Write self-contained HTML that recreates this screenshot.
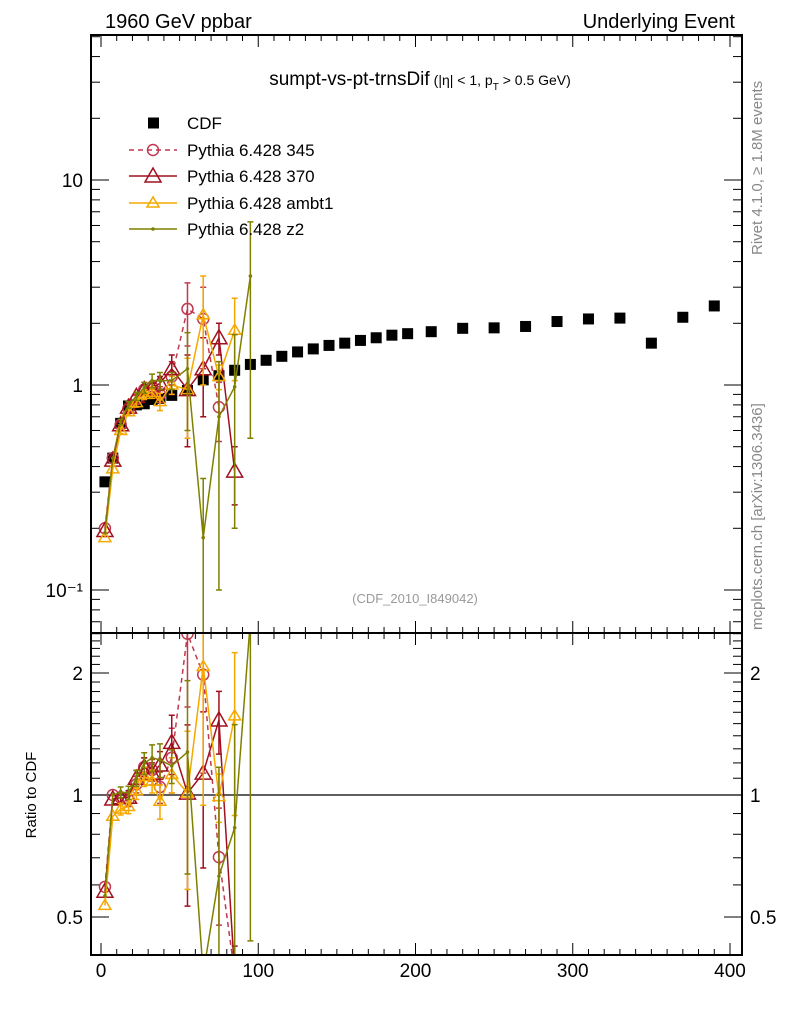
<!DOCTYPE html>
<html><head><meta charset="utf-8">
<style>
html,body{margin:0;padding:0;background:#fff;overflow:hidden;width:786px;height:1024px;}
svg{display:block;font-family:"Liberation Sans",sans-serif;overflow:hidden;}
</style></head>
<body>
<svg id="chart" width="786" height="1024" viewBox="0 0 786 1024" xmlns="http://www.w3.org/2000/svg">
<text x="105" y="28" font-size="20">1960 GeV ppbar</text>
<text x="735" y="28" font-size="20" text-anchor="end">Underlying Event</text>
<text x="420" y="85" font-size="19" text-anchor="middle">sumpt-vs-pt-trnsDif<tspan font-size="14" dx="4">(|η| &lt; 1, p</tspan><tspan font-size="10" dy="5">T</tspan><tspan font-size="14" dy="-5"> &gt; 0.5 GeV)</tspan></text>
<text transform="translate(762,255) rotate(-90)" font-size="15" fill="#888">Rivet 4.1.0, ≥ 1.8M events</text>
<text transform="translate(762,630) rotate(-90)" font-size="15" fill="#888">mcplots.cern.ch [arXiv:1306.3436]</text>
<text x="415" y="603" font-size="13" fill="#999" text-anchor="middle">(CDF_2010_I849042)</text>
<text transform="translate(36,795) rotate(-90)" font-size="15" text-anchor="middle">Ratio to CDF</text>
<defs>
<clipPath id="cMain"><rect x="91" y="35" width="651" height="598"/></clipPath>
<clipPath id="cRatio"><rect x="91" y="633" width="651" height="322"/></clipPath>
</defs>
<g id="axes"></g>
<g id="mainMarks" clip-path="url(#cMain)"></g>
<g id="ratioMarks" clip-path="url(#cRatio)"></g>
<g id="legend"></g>
<rect x="91" y="35" width="651" height="598" fill="none" stroke="#000" stroke-width="2"/>
<rect x="91" y="633" width="651" height="322" fill="none" stroke="#000" stroke-width="2"/>
</svg>
<script>
const cdfX = [2.5,7.5,12.5,17.5,22.5,27.5,32.5,37.5,45,55,65,75,85,95,105,115,125,135,145,155,165,175,185,195,210,230,250,270,290,310,330,350,370,390];
const cdfY = [0.337,0.44,0.65,0.79,0.80,0.81,0.85,0.86,0.89,0.94,1.06,1.11,1.18,1.26,1.32,1.38,1.45,1.5,1.56,1.6,1.65,1.7,1.75,1.78,1.82,1.89,1.9,1.93,2.04,2.1,2.12,1.6,2.14,2.43];
const mcX = [2.5,7.5,12.5,17.5,22.5,27.5,32.5,37.5,45,55,65,75,85,95];
const p345 = [0.20,0.44,0.64,0.77,0.85,0.95,0.98,0.90,1.10,2.35,2.10,0.78,0,null];
const p345Err = [0,0,0.02,0.03,0.04,0.05,0.06,0.08,0.2,0.8,0.9,0.25,0,0];
const p370 = [0.195,0.43,0.64,0.78,0.88,0.95,0.96,1.02,1.20,0.95,1.20,1.70,0.38,null];
const p370Err = [0,0,0.02,0.03,0.04,0.05,0.06,0.08,0.2,0.45,0.5,0.3,0.12,0];
const ambt1 = [0.18,0.39,0.60,0.74,0.82,0.90,0.92,0.83,1.00,0.95,2.20,1.10,1.85,null];
const ambt1Err = [0,0,0.02,0.03,0.04,0.05,0.06,0.08,0.1,0.4,1.2,0.15,0.8,0];
const z2 = [0.19,0.44,0.66,0.80,0.88,0.97,1.05,1.05,1.05,1.20,0.18,0.70,0.98,3.40];
const z2Err = [0,0,0.02,0.03,0.04,0.06,0.08,0.1,0.1,0.6,0.17,0.6,0.78,2.85];
const xTicks = [0,100,200,300,400];
const mainTickLabels = ["10⁻¹","1","10"];
const ratioTickLabels = ["0.5","1","2"];

const NS="http://www.w3.org/2000/svg";
const X0=101, XS=1.5725;
const sx = v => X0 + XS*v;
const syMain = v => 385 - 205*Math.log10(v);
const syRatio = r => 795 - 122*Math.log2(r);
function mk(tag, attrs, parent){const e=document.createElementNS(NS,tag);for(const k in attrs)e.setAttribute(k,attrs[k]);parent.appendChild(e);return e;}
const axes=document.getElementById('axes');
const gm=document.getElementById('mainMarks');
const gr=document.getElementById('ratioMarks');
const gl=document.getElementById('legend');

for(let v=0; v<=400; v+=10){
  const major = v%100===0;
  const L = major?12:6;
  const x=sx(v);
  [[35,1],[633,-1],[633,1],[955,-1]].forEach(([y,d])=>{
    const t=mk('line',{x1:x,x2:x,y1:y,y2:y+d*L,stroke:'#000','stroke-width':1},axes);
    
    
  });
}
xTicks.forEach(v=>{
  const t=mk('text',{x:sx(v),y:977,'font-size':19,'text-anchor':'middle'},axes);
  t.textContent=v;
  
  
});
for(let d=-2; d<=1; d++){
  for(let m=1;m<=9;m++){
    const v=m*Math.pow(10,d);
    const y=syMain(v);
    if(y<35||y>633) continue;
    const L = m===1?18:9;
    [[91,1],[742,-1]].forEach(([x,s])=>{
      const t=mk('line',{x1:x,x2:x+s*L,y1:y,y2:y,stroke:'#000','stroke-width':1},axes);
      
      
    });
  }
}
[0.1,1,10].forEach((v,i)=>{
  const t=mk('text',{x:83,y:syMain(v)+7,'font-size':19,'text-anchor':'end'},axes);
  t.textContent=mainTickLabels[i];
  
  
});
for(let r=0.4; r<=2.55; r+=0.1){
  const rr=Math.round(r*10)/10;
  const y=syRatio(rr);
  if(y<633||y>955) continue;
  const major=(rr===0.5||rr===1||rr===2);
  const L=major?18:9;
  [[91,1],[742,-1]].forEach(([x,s])=>{
    const t=mk('line',{x1:x,x2:x+s*L,y1:y,y2:y,stroke:'#000','stroke-width':1},axes);
    
    
  });
}
[0.5,1,2].forEach((v,i)=>{
  const a=mk('text',{x:83,y:syRatio(v)+7,'font-size':19,'text-anchor':'end'},axes);
  a.textContent=ratioTickLabels[i];
  
  
  const b=mk('text',{x:750,y:syRatio(v)+7,'font-size':19},axes);
  b.textContent=ratioTickLabels[i];
  
  
});
const one=mk('line',{x1:91,x2:742,y1:syRatio(1),y2:syRatio(1),stroke:'#000','stroke-width':1.2},axes);



cdfX.forEach((x,i)=>{
  const r=mk('rect',{x:sx(x)-5.5,y:syMain(cdfY[i])-5.5,width:11,height:11,fill:'#000'},gm);
  
  
});

function marker(g,type,color,x,y,name){
  let e;
  if(type==='circle') e=mk('circle',{cx:x,cy:y,r:5.5,fill:'none',stroke:color,'stroke-width':1.5},g);
  else if(type==='tri') e=mk('polygon',{points:`${x},${y-8} ${x-8},${y+6} ${x+8},${y+6}`,fill:'none',stroke:color,'stroke-width':1.5},g);
  else if(type==='tris') e=mk('polygon',{points:`${x},${y-6} ${x-6},${y+4} ${x+6},${y+4}`,fill:'none',stroke:color,'stroke-width':1.5},g);
  else e=mk('circle',{cx:x,cy:y,r:1.8,fill:color},g);
  
  
}
const series=[
  {vals:p345,err:p345Err,color:'#c0394f',dash:'5,4',type:'circle',name:'pythia-345'},
  {vals:p370,err:p370Err,color:'#a0101f',dash:null,type:'tri',name:'pythia-370'},
  {vals:ambt1,err:ambt1Err,color:'#f5a800',dash:null,type:'tris',name:'pythia-ambt1'},
  {vals:z2,err:z2Err,color:'#7f8000',dash:null,type:'dot',name:'pythia-z2'}
];
function cdfAt(x){return cdfY[cdfX.indexOf(x)];}
series.forEach(s=>{
  [['main',gm],['ratio',gr]].forEach(([panel,g])=>{
    const raw = panel==='main' ? syMain : syRatio;
    const lo = panel==='main' ? 36 : 634, hiY = panel==='main' ? 632 : 954;
    const fy = v => Math.max(lo-20, Math.min(hiY+20, raw(v)));
    const norm = panel==='main' ? (x=>1) : (x=>cdfAt(x));
    const pts=[];
    mcX.forEach((x,i)=>{
      const v=s.vals[i];
      if(v===null) return;
      if(v<=0){ if(panel==='ratio') pts.push(sx(x)+','+(hiY+20)); return; }
      pts.push(sx(x)+','+fy(v/norm(x)));
    });
    const pl=mk('polyline',{points:pts.join(' '),fill:'none',stroke:s.color,'stroke-width':1.5},g);
    if(s.dash) pl.setAttribute('stroke-dasharray',s.dash);
    
    
    mcX.forEach((x,i)=>{
      const v=s.vals[i];
      if(v===null||v<=0) return;
      const n=norm(x);
      const e=s.err[i];
      if(e>0){
        const l=Math.max(v-e,1e-3)/n, h=(v+e)/n;
        const eb=mk('path',{d:`M${sx(x)},${fy(l)}V${fy(h)}M${sx(x)-3},${fy(l)}h6M${sx(x)-3},${fy(h)}h6`,stroke:s.color,'stroke-width':1.5,fill:'none'},g);
        
        
      }
      marker(g,s.type,s.color,sx(x),fy(v/n),s.name+'-point');
    });
  });
});

const legY=[123,150,176,203,229];
const labels=['CDF','Pythia 6.428 345','Pythia 6.428 370','Pythia 6.428 ambt1','Pythia 6.428 z2'];
labels.forEach((lab,i)=>{
  const y=legY[i];
  const g=mk('g',{},gl);
  
  
  if(i===0){
    mk('rect',{x:148,y:y-5.5,width:11,height:11,fill:'#000'},g);
  } else {
    const s=series[i-1];
    const l=mk('line',{x1:129,x2:177,y1:y,y2:y,stroke:s.color,'stroke-width':1.5},g);
    if(s.dash) l.setAttribute('stroke-dasharray',s.dash);
    marker(g,s.type,s.color,153,y,'legend-marker');
  }
  const t=mk('text',{x:187,y:y+6,'font-size':17},g);
  t.textContent=lab;
});
</script>
</body></html>
